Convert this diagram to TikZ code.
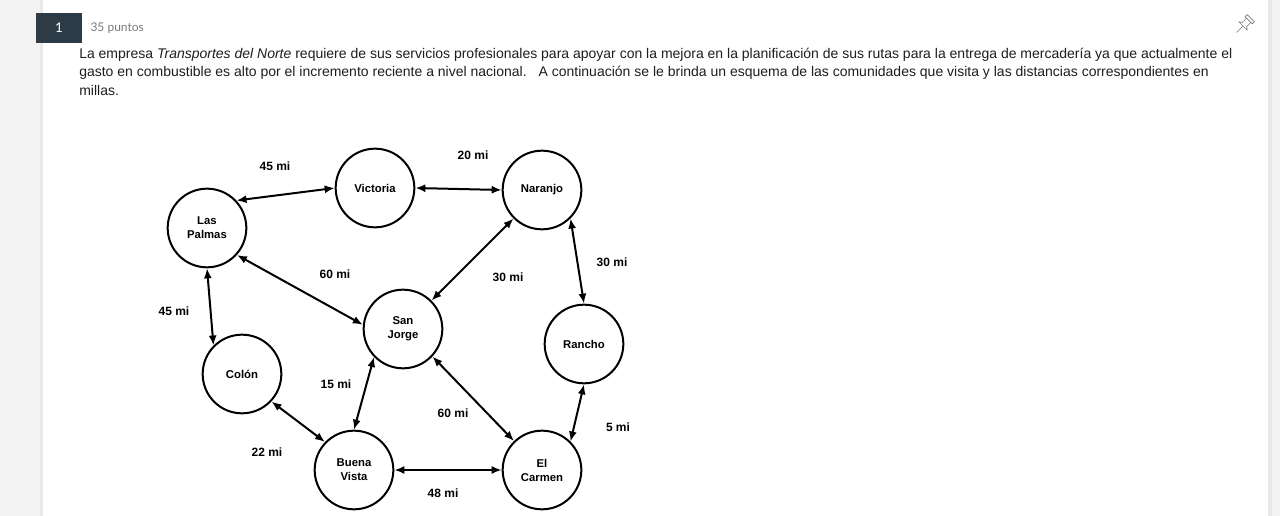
\documentclass[tikz,border=0pt]{standalone}
\usepackage{fontspec}
\setmainfont{Liberation Sans}
\newfontfamily\latofont{Lato}
\usepackage{tikz}
\usetikzlibrary{arrows.meta,positioning}

\definecolor{panelgray}{HTML}{F3F3F3}
\definecolor{edgegray}{HTML}{E9E9E9}
\definecolor{boxdark}{HTML}{2C3B45}
\definecolor{pointgray}{HTML}{7A7A7A}
\definecolor{textgray}{HTML}{1E1E1E}

\begin{document}
\begin{tikzpicture}[x=0.75pt, y=-0.75pt, line join=round, line cap=round, >={Latex[length=7.5pt,width=6pt]},
    town/.style={draw, circle, line width=1.5pt, minimum size=59pt, inner sep=0pt, align=center,
      font=\bfseries\fontsize{8.5}{10.5}\selectfont},
    dist/.style={inner sep=0pt, font=\bfseries\fontsize{9}{11}\selectfont},
    route/.style={<->, line width=1.5pt},
    txt/.style={anchor=base west, inner sep=0pt, text=textgray, font=\fontsize{10.5}{12}\selectfont}]
  \useasboundingbox (0,0) rectangle (1280,516);
  % page background
  \fill[panelgray] (0,0) rectangle (43,516);
  \fill[edgegray] (40,0) rectangle (43,516);
  \fill[white] (43,0) rectangle (1268,516);
  \fill[edgegray] (1268,0) rectangle (1272,516);
  \fill[panelgray] (1272,0) rectangle (1280,516);

  % header
  \node[fill=boxdark, text=white, minimum width=34.5pt, minimum height=22.5pt, inner sep=0pt,
    font=\latofont\fontsize{10}{12}\selectfont] (qnum) at (59,28) {1};
  \node[right=6pt of qnum, inner sep=0pt, text=pointgray, font=\latofont\fontsize{9}{11}\selectfont] (pts) {35 puntos};
  \begin{scope}[shift={(1243,26)}, rotate=-45, draw=pointgray, line width=0.5pt]
    \draw (-5,-11) rectangle (5,-8);
    \draw (-3,-8) -- (-3,-2) -- (-6,0) -- (6,0) -- (3,-2) -- (3,-8);
    \draw (0,0) -- (0,9);
  \end{scope}

  % statement
  \node[txt] (line1) at (79,58.5) {La empresa \textit{Transportes del Norte} requiere de sus servicios profesionales para apoyar con la mejora en la planificación de sus rutas para la entrega de mercadería ya que actualmente el};
  \node[txt] (line2) at (79,77) {gasto en combustible es alto por el incremento reciente a nivel nacional.\hspace{9pt}A continuación se le brinda un esquema de las comunidades que visita y las distancias correspondientes en};
  \node[txt] (line3) at (79,95.5) {millas.};

  % towns
  \node[town] (lp) at (207,228) {Las\\Palmas};
  \node[town] (vic) at (375,188) {Victoria};
  \node[town] (nar) at (542,190) {Naranjo};
  \node[town] (sj) at (403,329) {San\\Jorge};
  \node[town] (ran) at (584,344) {Rancho};
  \node[town] (col) at (242,374) {Colón};
  \node[town] (bv) at (354,470) {Buena\\Vista};
  \node[town] (ec) at (542,470) {El\\Carmen};

  % roads
  \draw[route] (lp.43) -- (vic.180);
  \draw[route] (vic.0) -- (nar.180);
  \draw[route] (nar.225) -- (sj.45);
  \draw[route] (nar.315) -- (ran.90);
  \draw[route] (lp.318) -- (sj.174);
  \draw[route] (lp.270) -- (col.135);
  \draw[route] (sj.224) -- (bv.90);
  \draw[route] (col.317) -- (bv.136);
  \draw[route] (sj.317) -- (ec.134);
  \draw[route] (ran.270) -- (ec.45);
  \draw[route] (bv.0) -- (ec.180);

  % distances
  \node[dist] (dLpVic) at (275,166) {45 mi};
  \node[dist] (dVicNar) at (473,155) {20 mi};
  \node[dist] (dNarSj) at (508,277) {30 mi};
  \node[dist] (dNarRan) at (612,262) {30 mi};
  \node[dist] (dLpSj) at (335,274) {60 mi};
  \node[dist] (dLpCol) at (174,311) {45 mi};
  \node[dist] (dSjBv) at (336,384) {15 mi};
  \node[dist] (dColBv) at (267,452) {22 mi};
  \node[dist] (dSjEc) at (453,413) {60 mi};
  \node[dist] (dRanEc) at (618,427) {5 mi};
  \node[dist] (dBvEc) at (443,493) {48 mi};
\end{tikzpicture}
\end{document}
